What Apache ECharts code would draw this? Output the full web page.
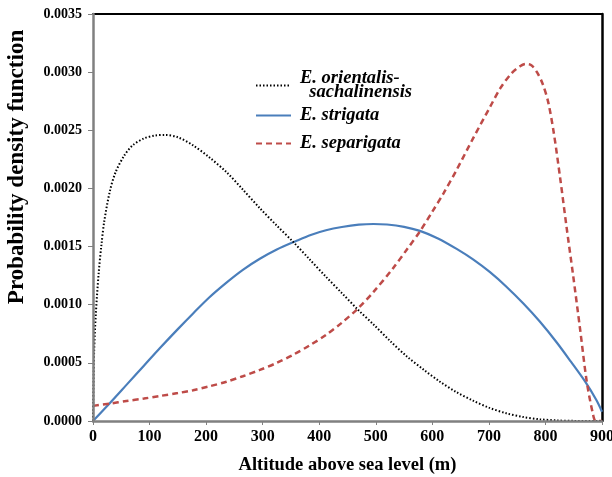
<!DOCTYPE html>
<html>
<head>
<meta charset="utf-8">
<script src="https://cdn.jsdelivr.net/npm/echarts@6/dist/echarts.min.js"></script>
<style>
html,body{margin:0;padding:0;background:#fff;}
#chart{width:612px;height:477px;}
</style>
</head>
<body>
<div id="chart"></div>
<script>
// ---- Data ----
var xTicks = [0, 100, 200, 300, 400, 500, 600, 700, 800, 900];
var yTicks = [0, 0.0005, 0.001, 0.0015, 0.002, 0.0025, 0.003, 0.0035];

var orientalisX = [0, 2, 5, 10, 15, 20, 30, 40, 55, 70, 90, 110, 127, 150, 177, 205, 236, 265, 295, 325, 354, 383, 412, 440, 470, 496, 525, 555, 585, 613, 642, 672, 700, 731, 760, 790, 820, 850, 900];
var orientalisY = [0, 0.00060, 0.00092, 0.00127, 0.00152, 0.00172, 0.00198, 0.00214, 0.00228, 0.00237, 0.00243, 0.002455, 0.00246, 0.00244, 0.00237, 0.00227, 0.00214, 0.00199, 0.00183, 0.00168, 0.00154, 0.00139, 0.00124, 0.00110, 0.00095, 0.00083, 0.00069, 0.000555, 0.00044, 0.00034, 0.00025, 0.000175, 0.000115, 0.000066, 0.000035, 0.000015, 0.000005, 0.000001, 0];

var strigataX = [0, 30, 60, 90, 118, 150, 177, 205, 236, 265, 295, 325, 360, 385, 412, 440, 470, 496, 520, 550, 578, 610, 643, 672, 702, 731, 761, 790, 820, 845, 870, 890, 900];
var strigataY = [0, 0.000155, 0.000315, 0.000475, 0.000625, 0.00079, 0.000925, 0.00106, 0.00119, 0.00130, 0.001395, 0.001475, 0.00155, 0.00160, 0.00164, 0.001668, 0.001688, 0.001694, 0.00169, 0.00167, 0.001635, 0.00157, 0.00148, 0.00139, 0.00128, 0.001155, 0.00101, 0.000855, 0.000675, 0.00051, 0.00034, 0.00018, 0.00008];

var separigataX = [0, 30, 59, 90, 118, 150, 177, 205, 236, 265, 295, 325, 354, 383, 412, 440, 469, 496, 530, 555, 578, 600, 620, 643, 672, 702, 720, 740, 755, 765, 775, 785, 795, 805, 815, 826, 837, 849, 861, 873, 884, 889, 900];
var separigataY = [0.000130, 0.000150, 0.000172, 0.000193, 0.000215, 0.000240, 0.000265, 0.000297, 0.000338, 0.000385, 0.000439, 0.000500, 0.000570, 0.000650, 0.000740, 0.000845, 0.00097, 0.00111, 0.00131, 0.001475, 0.00163, 0.00180, 0.00196, 0.00216, 0.00243, 0.00270, 0.00286, 0.00299, 0.00305, 0.00307, 0.00306, 0.00300, 0.00290, 0.00274, 0.00247, 0.00209, 0.00168, 0.00125, 0.00080, 0.00034, 0.00006, 0, 0];

var seriesNames = ['E. orientalis-sachalinensis', 'E. strigata', 'E. separigata'];
var xTitle = 'Altitude above sea level (m)';
var yTitle = 'Probability density function';

function pairs(xs, ys) { return xs.map(function (x, i) { return [x, ys[i]]; }); }

var serif = '"Liberation Serif", "Times New Roman", serif';
var legendTops = [69, 106, 134];

function makeLegend(i) {
  return {
    orient: 'vertical', left: 255, top: legendTops[i], padding: 0,
    itemWidth: 35, itemHeight: 14, itemGap: 0,
    data: [seriesNames[i]],
    itemStyle: { opacity: 0 },
    formatter: function (n) { return n === seriesNames[0] ? 'E. orientalis-\n  sachalinensis' : n; },
    textStyle: { fontFamily: serif, fontStyle: 'italic', fontWeight: 'bold', fontSize: 18.5, color: '#000', lineHeight: 14, padding: [0, 0, 0, 4] }
  };
}

var chart = echarts.init(document.getElementById('chart'), null, { renderer: 'canvas' });
chart.setOption({
  animation: false,
  backgroundColor: '#ffffff',
  grid: { left: 93, right: 10, top: 14, bottom: 56, show: false, containLabel: false, outerBoundsMode: 'none' },
  legend: [makeLegend(0), makeLegend(1), makeLegend(2)],
  graphic: [{
    type: 'text', x: 17, y: 167, rotation: Math.PI / 2,
    style: { text: yTitle, font: 'bold 23px ' + serif, fill: '#000', textAlign: 'center', textVerticalAlign: 'middle' }
  }],
  xAxis: [{
    type: 'value', min: xTicks[0], max: xTicks[xTicks.length - 1], interval: 100,
    name: xTitle, nameLocation: 'middle', nameGap: 35,
    nameTextStyle: { fontFamily: serif, fontWeight: 'bold', fontSize: 18.5, color: '#000' },
    axisLine: { show: true, onZero: false, lineStyle: { color: '#808080', width: 2.5 } },
    axisTick: { show: true, inside: false, length: 4, lineStyle: { color: '#808080', width: 1 } },
    axisLabel: { fontFamily: serif, fontWeight: 'bold', fontSize: 16, color: '#000', margin: 8 },
    splitLine: { show: false }, z: 5
  }, {
    type: 'value', position: 'top', min: xTicks[0], max: xTicks[xTicks.length - 1], interval: 100,
    axisLine: { show: true, onZero: false, lineStyle: { color: '#000000', width: 2 } },
    axisTick: { show: false }, axisLabel: { show: false }, splitLine: { show: false }
  }],
  yAxis: [{
    type: 'value', min: yTicks[0], max: yTicks[yTicks.length - 1], interval: 0.0005,
    axisLine: { show: true, onZero: false, lineStyle: { color: '#808080', width: 2.5 } },
    axisTick: { show: true, inside: false, length: 5, lineStyle: { color: '#808080', width: 1 } },
    axisLabel: { fontFamily: serif, fontWeight: 'bold', fontSize: 14, color: '#000', margin: 11,
      formatter: function (v) { return v.toFixed(4); } },
    splitLine: { show: false }, z: 5
  }, {
    type: 'value', position: 'right', min: yTicks[0], max: yTicks[yTicks.length - 1], interval: 0.0005,
    axisLine: { show: true, onZero: false, lineStyle: { color: '#000000', width: 2.5 } },
    axisTick: { show: false }, axisLabel: { show: false }, splitLine: { show: false }
  }],
  series: [
    {
      name: seriesNames[0], type: 'line', data: pairs(orientalisX, orientalisY),
      smooth: 0.3, symbol: 'none', showSymbol: false, z: 3,
      lineStyle: { color: '#000000', width: 2, type: [1.5, 2] },
      itemStyle: { color: '#000000' }
    },
    {
      name: seriesNames[1], type: 'line', data: pairs(strigataX, strigataY),
      smooth: 0.3, symbol: 'none', showSymbol: false, z: 2,
      lineStyle: { color: '#4A7EBB', width: 2.2, type: 'solid' },
      itemStyle: { color: '#4A7EBB' }
    },
    {
      name: seriesNames[2], type: 'line', data: pairs(separigataX, separigataY),
      smooth: 0.3, symbol: 'none', showSymbol: false, z: 2,
      lineStyle: { color: '#BE4B48', width: 2.5, type: [6, 4] },
      itemStyle: { color: '#BE4B48' }
    }
  ]
});
</script>
</body>
</html>
